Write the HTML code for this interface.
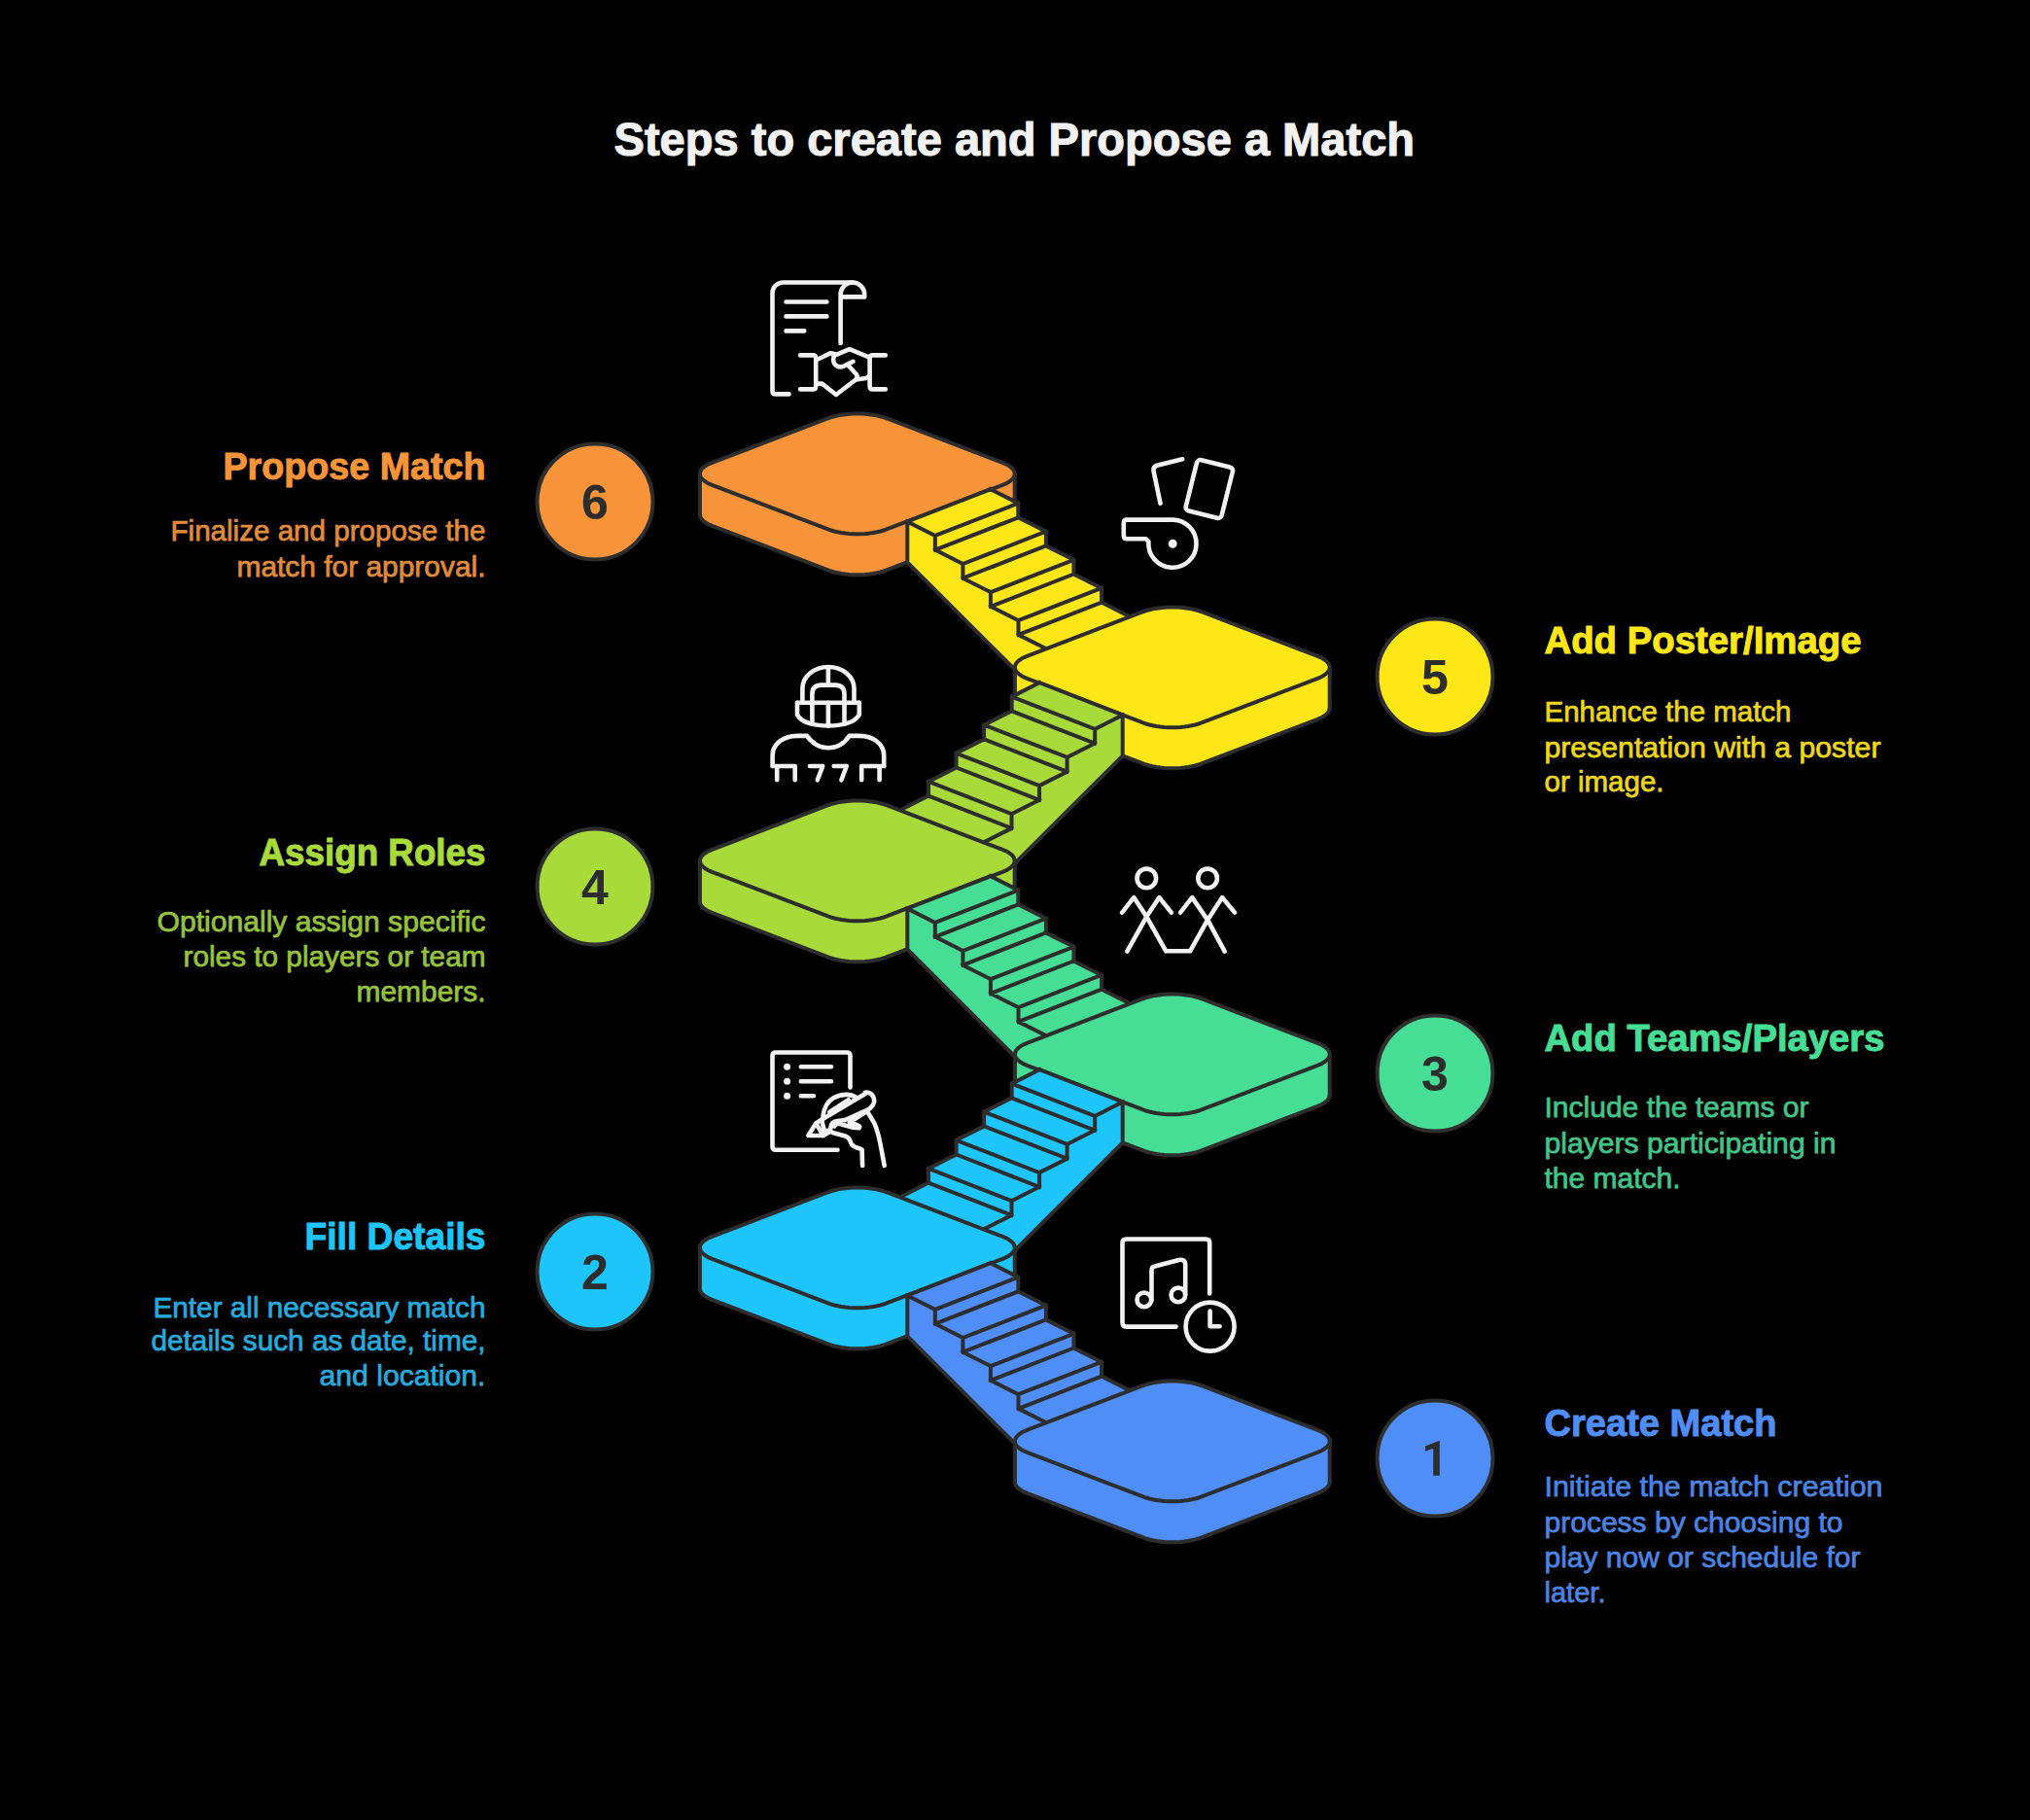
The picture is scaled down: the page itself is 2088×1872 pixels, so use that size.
<!DOCTYPE html>
<html><head><meta charset="utf-8"><style>
html,body{margin:0;padding:0;background:#000;width:2088px;height:1872px;overflow:hidden}
svg{position:absolute;left:0;top:0}
text{font-family:"Liberation Sans",sans-serif}
</style></head><body>
<svg width="2088" height="1872" viewBox="0 0 2088 1872">
<rect width="2088" height="1872" fill="#000"/>
<text x="1043.3" y="160.2" text-anchor="middle" font-size="47.8" font-weight="bold" fill="#F2F2F2" stroke="#F2F2F2" stroke-width="1.1" textLength="823.5" lengthAdjust="spacingAndGlyphs">Steps to create and Propose a Match</text>
<path d="M732.37 540.84 L729.56 539.66 L727.08 538.38 L724.93 537.01 L723.15 535.57 L721.74 534.07 L720.73 532.52 L720.12 530.94 L719.91 529.35 L720.12 527.76 L720.73 526.18 L721.74 524.63 L723.15 523.13 L724.93 521.69 L727.08 520.32 L729.56 519.04 L732.37 517.86 L851.73 472.24 L854.83 471.17 L858.18 470.22 L861.76 469.4 L865.53 468.72 L869.46 468.18 L873.5 467.79 L877.63 467.56 L881.8 467.48 L885.97 467.56 L890.1 467.79 L894.14 468.18 L898.07 468.72 L901.84 469.4 L905.42 470.22 L908.77 471.17 L911.87 472.24 L1031.23 517.86 L1034.04 519.04 L1036.52 520.32 L1038.67 521.69 L1040.45 523.13 L1041.86 524.63 L1042.87 526.18 L1043.48 527.76 L1043.69 529.35 L1043.48 530.94 L1042.87 532.52 L1041.86 534.07 L1040.45 535.57 L1038.67 537.01 L1036.52 538.38 L1034.04 539.66 L1031.23 540.84 L911.87 586.46 L908.77 587.53 L905.42 588.48 L901.84 589.3 L898.07 589.98 L894.14 590.52 L890.1 590.91 L885.97 591.14 L881.8 591.22 L877.63 591.14 L873.5 590.91 L869.46 590.52 L865.53 589.98 L861.76 589.3 L858.18 588.48 L854.83 587.53 L851.73 586.46Z" fill="#F7943A" stroke="#2D2D2D" stroke-width="4.0" stroke-linejoin="round"/>
<rect x="719.91" y="487.35" width="323.77" height="42" fill="#F7943A"/>
<path d="M719.91 487.35V530.85M1043.69 487.35V530.85" stroke="#2D2D2D" stroke-width="4.0"/>
<path d="M732.37 498.84 L729.56 497.66 L727.08 496.38 L724.93 495.01 L723.15 493.57 L721.74 492.07 L720.73 490.52 L720.12 488.94 L719.91 487.35 L720.12 485.76 L720.73 484.18 L721.74 482.63 L723.15 481.13 L724.93 479.69 L727.08 478.32 L729.56 477.04 L732.37 475.86 L851.73 430.24 L854.83 429.17 L858.18 428.22 L861.76 427.4 L865.53 426.72 L869.46 426.18 L873.5 425.79 L877.63 425.56 L881.8 425.48 L885.97 425.56 L890.1 425.79 L894.14 426.18 L898.07 426.72 L901.84 427.4 L905.42 428.22 L908.77 429.17 L911.87 430.24 L1031.23 475.86 L1034.04 477.04 L1036.52 478.32 L1038.67 479.69 L1040.45 481.13 L1041.86 482.63 L1042.87 484.18 L1043.48 485.76 L1043.69 487.35 L1043.48 488.94 L1042.87 490.52 L1041.86 492.07 L1040.45 493.57 L1038.67 495.01 L1036.52 496.38 L1034.04 497.66 L1031.23 498.84 L911.87 544.46 L908.77 545.53 L905.42 546.48 L901.84 547.3 L898.07 547.98 L894.14 548.52 L890.1 548.91 L885.97 549.14 L881.8 549.22 L877.63 549.14 L873.5 548.91 L869.46 548.52 L865.53 547.98 L861.76 547.3 L858.18 546.48 L854.83 545.53 L851.73 544.46Z" fill="#F7943A" stroke="#2D2D2D" stroke-width="4.0" stroke-linejoin="round"/>
<path d="M933.3 536.5 L933.3 578.5 L1043.5 688.5 L1083.5 668.5 L1076.05 667.3 L1047.5 652.9 L1047.5 638.2 L1018.95 623.8 L1018.95 609.1 L990.4 594.7 L990.4 580 L961.85 565.6 L961.85 550.9 L933.3 536.5Z" fill="#FFE617"/>
<path d="M933.3 536.5 L961.85 550.9 L961.85 565.6 L990.4 580 L990.4 594.7 L1018.95 609.1 L1018.95 623.8 L1047.5 638.2 L1047.5 652.9 L1076.05 667.3 L1104.6 681.7 L1190.1 648.4 L1161.55 634 L1133 619.6 L1133 604.9 L1104.45 590.5 L1104.45 575.8 L1075.9 561.4 L1075.9 546.7 L1047.35 532.3 L1047.35 517.6 L1018.8 503.2Z" fill="#FFE617"/>
<path d="M933.3 536.5 L933.3 578.5 L1043.5 688.5 M933.3 536.5 L961.85 550.9 L961.85 565.6 L990.4 580 L990.4 594.7 L1018.95 609.1 L1018.95 623.8 L1047.5 638.2 L1047.5 652.9 L1076.05 667.3 L1104.6 681.7 M1018.8 503.2 L1047.35 517.6 L1047.35 532.3 L1075.9 546.7 L1075.9 561.4 L1104.45 575.8 L1104.45 590.5 L1133 604.9 L1133 619.6 L1161.55 634 L1190.1 648.4 M961.85 550.9 L1047.35 517.6 M961.85 565.6 L1047.35 532.3 M990.4 580 L1075.9 546.7 M990.4 594.7 L1075.9 561.4 M1018.95 609.1 L1104.45 575.8 M1018.95 623.8 L1104.45 590.5 M1047.5 638.2 L1133 604.9 M1047.5 652.9 L1133 619.6 M933.3 536.5 L1018.8 503.2" fill="none" stroke="#2D2D2D" stroke-width="4.0" stroke-linejoin="miter" stroke-linecap="square"/>
<path d="M1056.37 739.84 L1053.56 738.66 L1051.08 737.38 L1048.93 736.01 L1047.15 734.57 L1045.74 733.07 L1044.73 731.52 L1044.12 729.94 L1043.91 728.35 L1044.12 726.76 L1044.73 725.18 L1045.74 723.63 L1047.15 722.13 L1048.93 720.69 L1051.08 719.32 L1053.56 718.04 L1056.37 716.86 L1175.73 671.24 L1178.83 670.17 L1182.18 669.22 L1185.76 668.4 L1189.53 667.72 L1193.46 667.18 L1197.5 666.79 L1201.63 666.56 L1205.8 666.48 L1209.97 666.56 L1214.1 666.79 L1218.14 667.18 L1222.07 667.72 L1225.84 668.4 L1229.42 669.22 L1232.77 670.17 L1235.87 671.24 L1355.23 716.86 L1358.04 718.04 L1360.52 719.32 L1362.67 720.69 L1364.45 722.13 L1365.86 723.63 L1366.87 725.18 L1367.48 726.76 L1367.69 728.35 L1367.48 729.94 L1366.87 731.52 L1365.86 733.07 L1364.45 734.57 L1362.67 736.01 L1360.52 737.38 L1358.04 738.66 L1355.23 739.84 L1235.87 785.46 L1232.77 786.53 L1229.42 787.48 L1225.84 788.3 L1222.07 788.98 L1218.14 789.52 L1214.1 789.91 L1209.97 790.14 L1205.8 790.22 L1201.63 790.14 L1197.5 789.91 L1193.46 789.52 L1189.53 788.98 L1185.76 788.3 L1182.18 787.48 L1178.83 786.53 L1175.73 785.46Z" fill="#FFE617" stroke="#2D2D2D" stroke-width="4.0" stroke-linejoin="round"/>
<rect x="1043.91" y="686.35" width="323.77" height="42" fill="#FFE617"/>
<path d="M1043.91 686.35V729.85M1367.69 686.35V729.85" stroke="#2D2D2D" stroke-width="4.0"/>
<path d="M1056.37 697.84 L1053.56 696.66 L1051.08 695.38 L1048.93 694.01 L1047.15 692.57 L1045.74 691.07 L1044.73 689.52 L1044.12 687.94 L1043.91 686.35 L1044.12 684.76 L1044.73 683.18 L1045.74 681.63 L1047.15 680.13 L1048.93 678.69 L1051.08 677.32 L1053.56 676.04 L1056.37 674.86 L1175.73 629.24 L1178.83 628.17 L1182.18 627.22 L1185.76 626.4 L1189.53 625.72 L1193.46 625.18 L1197.5 624.79 L1201.63 624.56 L1205.8 624.48 L1209.97 624.56 L1214.1 624.79 L1218.14 625.18 L1222.07 625.72 L1225.84 626.4 L1229.42 627.22 L1232.77 628.17 L1235.87 629.24 L1355.23 674.86 L1358.04 676.04 L1360.52 677.32 L1362.67 678.69 L1364.45 680.13 L1365.86 681.63 L1366.87 683.18 L1367.48 684.76 L1367.69 686.35 L1367.48 687.94 L1366.87 689.52 L1365.86 691.07 L1364.45 692.57 L1362.67 694.01 L1360.52 695.38 L1358.04 696.66 L1355.23 697.84 L1235.87 743.46 L1232.77 744.53 L1229.42 745.48 L1225.84 746.3 L1222.07 746.98 L1218.14 747.52 L1214.1 747.91 L1209.97 748.14 L1205.8 748.22 L1201.63 748.14 L1197.5 747.91 L1193.46 747.52 L1189.53 746.98 L1185.76 746.3 L1182.18 745.48 L1178.83 744.53 L1175.73 743.46Z" fill="#FFE617" stroke="#2D2D2D" stroke-width="4.0" stroke-linejoin="round"/>
<path d="M1154.7 735.5 L1154.7 777.5 L1044.5 887.5 L1004.5 867.5 L1011.95 866.3 L1040.5 851.9 L1040.5 837.2 L1069.05 822.8 L1069.05 808.1 L1097.6 793.7 L1097.6 779 L1126.15 764.6 L1126.15 749.9 L1154.7 735.5Z" fill="#A8DB39"/>
<path d="M1154.7 735.5 L1126.15 749.9 L1126.15 764.6 L1097.6 779 L1097.6 793.7 L1069.05 808.1 L1069.05 822.8 L1040.5 837.2 L1040.5 851.9 L1011.95 866.3 L983.4 880.7 L897.9 847.4 L926.45 833 L955 818.6 L955 803.9 L983.55 789.5 L983.55 774.8 L1012.1 760.4 L1012.1 745.7 L1040.65 731.3 L1040.65 716.6 L1069.2 702.2Z" fill="#A8DB39"/>
<path d="M1154.7 735.5 L1154.7 777.5 L1044.5 887.5 M1154.7 735.5 L1126.15 749.9 L1126.15 764.6 L1097.6 779 L1097.6 793.7 L1069.05 808.1 L1069.05 822.8 L1040.5 837.2 L1040.5 851.9 L1011.95 866.3 L983.4 880.7 M1069.2 702.2 L1040.65 716.6 L1040.65 731.3 L1012.1 745.7 L1012.1 760.4 L983.55 774.8 L983.55 789.5 L955 803.9 L955 818.6 L926.45 833 L897.9 847.4 M1126.15 749.9 L1040.65 716.6 M1126.15 764.6 L1040.65 731.3 M1097.6 779 L1012.1 745.7 M1097.6 793.7 L1012.1 760.4 M1069.05 808.1 L983.55 774.8 M1069.05 822.8 L983.55 789.5 M1040.5 837.2 L955 803.9 M1040.5 851.9 L955 818.6 M1154.7 735.5 L1069.2 702.2" fill="none" stroke="#2D2D2D" stroke-width="4.0" stroke-linejoin="miter" stroke-linecap="square"/>
<path d="M732.37 938.84 L729.56 937.66 L727.08 936.38 L724.93 935.01 L723.15 933.57 L721.74 932.07 L720.73 930.52 L720.12 928.94 L719.91 927.35 L720.12 925.76 L720.73 924.18 L721.74 922.63 L723.15 921.13 L724.93 919.69 L727.08 918.32 L729.56 917.04 L732.37 915.86 L851.73 870.24 L854.83 869.17 L858.18 868.22 L861.76 867.4 L865.53 866.72 L869.46 866.18 L873.5 865.79 L877.63 865.56 L881.8 865.48 L885.97 865.56 L890.1 865.79 L894.14 866.18 L898.07 866.72 L901.84 867.4 L905.42 868.22 L908.77 869.17 L911.87 870.24 L1031.23 915.86 L1034.04 917.04 L1036.52 918.32 L1038.67 919.69 L1040.45 921.13 L1041.86 922.63 L1042.87 924.18 L1043.48 925.76 L1043.69 927.35 L1043.48 928.94 L1042.87 930.52 L1041.86 932.07 L1040.45 933.57 L1038.67 935.01 L1036.52 936.38 L1034.04 937.66 L1031.23 938.84 L911.87 984.46 L908.77 985.53 L905.42 986.48 L901.84 987.3 L898.07 987.98 L894.14 988.52 L890.1 988.91 L885.97 989.14 L881.8 989.22 L877.63 989.14 L873.5 988.91 L869.46 988.52 L865.53 987.98 L861.76 987.3 L858.18 986.48 L854.83 985.53 L851.73 984.46Z" fill="#A8DB39" stroke="#2D2D2D" stroke-width="4.0" stroke-linejoin="round"/>
<rect x="719.91" y="885.35" width="323.77" height="42" fill="#A8DB39"/>
<path d="M719.91 885.35V928.85M1043.69 885.35V928.85" stroke="#2D2D2D" stroke-width="4.0"/>
<path d="M732.37 896.84 L729.56 895.66 L727.08 894.38 L724.93 893.01 L723.15 891.57 L721.74 890.07 L720.73 888.52 L720.12 886.94 L719.91 885.35 L720.12 883.76 L720.73 882.18 L721.74 880.63 L723.15 879.13 L724.93 877.69 L727.08 876.32 L729.56 875.04 L732.37 873.86 L851.73 828.24 L854.83 827.17 L858.18 826.22 L861.76 825.4 L865.53 824.72 L869.46 824.18 L873.5 823.79 L877.63 823.56 L881.8 823.48 L885.97 823.56 L890.1 823.79 L894.14 824.18 L898.07 824.72 L901.84 825.4 L905.42 826.22 L908.77 827.17 L911.87 828.24 L1031.23 873.86 L1034.04 875.04 L1036.52 876.32 L1038.67 877.69 L1040.45 879.13 L1041.86 880.63 L1042.87 882.18 L1043.48 883.76 L1043.69 885.35 L1043.48 886.94 L1042.87 888.52 L1041.86 890.07 L1040.45 891.57 L1038.67 893.01 L1036.52 894.38 L1034.04 895.66 L1031.23 896.84 L911.87 942.46 L908.77 943.53 L905.42 944.48 L901.84 945.3 L898.07 945.98 L894.14 946.52 L890.1 946.91 L885.97 947.14 L881.8 947.22 L877.63 947.14 L873.5 946.91 L869.46 946.52 L865.53 945.98 L861.76 945.3 L858.18 944.48 L854.83 943.53 L851.73 942.46Z" fill="#A8DB39" stroke="#2D2D2D" stroke-width="4.0" stroke-linejoin="round"/>
<path d="M933.3 934.5 L933.3 976.5 L1043.5 1086.5 L1083.5 1066.5 L1076.05 1065.3 L1047.5 1050.9 L1047.5 1036.2 L1018.95 1021.8 L1018.95 1007.1 L990.4 992.7 L990.4 978 L961.85 963.6 L961.85 948.9 L933.3 934.5Z" fill="#45DE94"/>
<path d="M933.3 934.5 L961.85 948.9 L961.85 963.6 L990.4 978 L990.4 992.7 L1018.95 1007.1 L1018.95 1021.8 L1047.5 1036.2 L1047.5 1050.9 L1076.05 1065.3 L1104.6 1079.7 L1190.1 1046.4 L1161.55 1032 L1133 1017.6 L1133 1002.9 L1104.45 988.5 L1104.45 973.8 L1075.9 959.4 L1075.9 944.7 L1047.35 930.3 L1047.35 915.6 L1018.8 901.2Z" fill="#45DE94"/>
<path d="M933.3 934.5 L933.3 976.5 L1043.5 1086.5 M933.3 934.5 L961.85 948.9 L961.85 963.6 L990.4 978 L990.4 992.7 L1018.95 1007.1 L1018.95 1021.8 L1047.5 1036.2 L1047.5 1050.9 L1076.05 1065.3 L1104.6 1079.7 M1018.8 901.2 L1047.35 915.6 L1047.35 930.3 L1075.9 944.7 L1075.9 959.4 L1104.45 973.8 L1104.45 988.5 L1133 1002.9 L1133 1017.6 L1161.55 1032 L1190.1 1046.4 M961.85 948.9 L1047.35 915.6 M961.85 963.6 L1047.35 930.3 M990.4 978 L1075.9 944.7 M990.4 992.7 L1075.9 959.4 M1018.95 1007.1 L1104.45 973.8 M1018.95 1021.8 L1104.45 988.5 M1047.5 1036.2 L1133 1002.9 M1047.5 1050.9 L1133 1017.6 M933.3 934.5 L1018.8 901.2" fill="none" stroke="#2D2D2D" stroke-width="4.0" stroke-linejoin="miter" stroke-linecap="square"/>
<path d="M1056.37 1137.84 L1053.56 1136.66 L1051.08 1135.38 L1048.93 1134.01 L1047.15 1132.57 L1045.74 1131.07 L1044.73 1129.52 L1044.12 1127.94 L1043.91 1126.35 L1044.12 1124.76 L1044.73 1123.18 L1045.74 1121.63 L1047.15 1120.13 L1048.93 1118.69 L1051.08 1117.32 L1053.56 1116.04 L1056.37 1114.86 L1175.73 1069.24 L1178.83 1068.17 L1182.18 1067.22 L1185.76 1066.4 L1189.53 1065.72 L1193.46 1065.18 L1197.5 1064.79 L1201.63 1064.56 L1205.8 1064.48 L1209.97 1064.56 L1214.1 1064.79 L1218.14 1065.18 L1222.07 1065.72 L1225.84 1066.4 L1229.42 1067.22 L1232.77 1068.17 L1235.87 1069.24 L1355.23 1114.86 L1358.04 1116.04 L1360.52 1117.32 L1362.67 1118.69 L1364.45 1120.13 L1365.86 1121.63 L1366.87 1123.18 L1367.48 1124.76 L1367.69 1126.35 L1367.48 1127.94 L1366.87 1129.52 L1365.86 1131.07 L1364.45 1132.57 L1362.67 1134.01 L1360.52 1135.38 L1358.04 1136.66 L1355.23 1137.84 L1235.87 1183.46 L1232.77 1184.53 L1229.42 1185.48 L1225.84 1186.3 L1222.07 1186.98 L1218.14 1187.52 L1214.1 1187.91 L1209.97 1188.14 L1205.8 1188.22 L1201.63 1188.14 L1197.5 1187.91 L1193.46 1187.52 L1189.53 1186.98 L1185.76 1186.3 L1182.18 1185.48 L1178.83 1184.53 L1175.73 1183.46Z" fill="#45DE94" stroke="#2D2D2D" stroke-width="4.0" stroke-linejoin="round"/>
<rect x="1043.91" y="1084.35" width="323.77" height="42" fill="#45DE94"/>
<path d="M1043.91 1084.35V1127.85M1367.69 1084.35V1127.85" stroke="#2D2D2D" stroke-width="4.0"/>
<path d="M1056.37 1095.84 L1053.56 1094.66 L1051.08 1093.38 L1048.93 1092.01 L1047.15 1090.57 L1045.74 1089.07 L1044.73 1087.52 L1044.12 1085.94 L1043.91 1084.35 L1044.12 1082.76 L1044.73 1081.18 L1045.74 1079.63 L1047.15 1078.13 L1048.93 1076.69 L1051.08 1075.32 L1053.56 1074.04 L1056.37 1072.86 L1175.73 1027.24 L1178.83 1026.17 L1182.18 1025.22 L1185.76 1024.4 L1189.53 1023.72 L1193.46 1023.18 L1197.5 1022.79 L1201.63 1022.56 L1205.8 1022.48 L1209.97 1022.56 L1214.1 1022.79 L1218.14 1023.18 L1222.07 1023.72 L1225.84 1024.4 L1229.42 1025.22 L1232.77 1026.17 L1235.87 1027.24 L1355.23 1072.86 L1358.04 1074.04 L1360.52 1075.32 L1362.67 1076.69 L1364.45 1078.13 L1365.86 1079.63 L1366.87 1081.18 L1367.48 1082.76 L1367.69 1084.35 L1367.48 1085.94 L1366.87 1087.52 L1365.86 1089.07 L1364.45 1090.57 L1362.67 1092.01 L1360.52 1093.38 L1358.04 1094.66 L1355.23 1095.84 L1235.87 1141.46 L1232.77 1142.53 L1229.42 1143.48 L1225.84 1144.3 L1222.07 1144.98 L1218.14 1145.52 L1214.1 1145.91 L1209.97 1146.14 L1205.8 1146.22 L1201.63 1146.14 L1197.5 1145.91 L1193.46 1145.52 L1189.53 1144.98 L1185.76 1144.3 L1182.18 1143.48 L1178.83 1142.53 L1175.73 1141.46Z" fill="#45DE94" stroke="#2D2D2D" stroke-width="4.0" stroke-linejoin="round"/>
<path d="M1154.7 1133.5 L1154.7 1175.5 L1044.5 1285.5 L1004.5 1265.5 L1011.95 1264.3 L1040.5 1249.9 L1040.5 1235.2 L1069.05 1220.8 L1069.05 1206.1 L1097.6 1191.7 L1097.6 1177 L1126.15 1162.6 L1126.15 1147.9 L1154.7 1133.5Z" fill="#1DC5FA"/>
<path d="M1154.7 1133.5 L1126.15 1147.9 L1126.15 1162.6 L1097.6 1177 L1097.6 1191.7 L1069.05 1206.1 L1069.05 1220.8 L1040.5 1235.2 L1040.5 1249.9 L1011.95 1264.3 L983.4 1278.7 L897.9 1245.4 L926.45 1231 L955 1216.6 L955 1201.9 L983.55 1187.5 L983.55 1172.8 L1012.1 1158.4 L1012.1 1143.7 L1040.65 1129.3 L1040.65 1114.6 L1069.2 1100.2Z" fill="#1DC5FA"/>
<path d="M1154.7 1133.5 L1154.7 1175.5 L1044.5 1285.5 M1154.7 1133.5 L1126.15 1147.9 L1126.15 1162.6 L1097.6 1177 L1097.6 1191.7 L1069.05 1206.1 L1069.05 1220.8 L1040.5 1235.2 L1040.5 1249.9 L1011.95 1264.3 L983.4 1278.7 M1069.2 1100.2 L1040.65 1114.6 L1040.65 1129.3 L1012.1 1143.7 L1012.1 1158.4 L983.55 1172.8 L983.55 1187.5 L955 1201.9 L955 1216.6 L926.45 1231 L897.9 1245.4 M1126.15 1147.9 L1040.65 1114.6 M1126.15 1162.6 L1040.65 1129.3 M1097.6 1177 L1012.1 1143.7 M1097.6 1191.7 L1012.1 1158.4 M1069.05 1206.1 L983.55 1172.8 M1069.05 1220.8 L983.55 1187.5 M1040.5 1235.2 L955 1201.9 M1040.5 1249.9 L955 1216.6 M1154.7 1133.5 L1069.2 1100.2" fill="none" stroke="#2D2D2D" stroke-width="4.0" stroke-linejoin="miter" stroke-linecap="square"/>
<path d="M732.37 1336.84 L729.56 1335.66 L727.08 1334.38 L724.93 1333.01 L723.15 1331.57 L721.74 1330.07 L720.73 1328.52 L720.12 1326.94 L719.91 1325.35 L720.12 1323.76 L720.73 1322.18 L721.74 1320.63 L723.15 1319.13 L724.93 1317.69 L727.08 1316.32 L729.56 1315.04 L732.37 1313.86 L851.73 1268.24 L854.83 1267.17 L858.18 1266.22 L861.76 1265.4 L865.53 1264.72 L869.46 1264.18 L873.5 1263.79 L877.63 1263.56 L881.8 1263.48 L885.97 1263.56 L890.1 1263.79 L894.14 1264.18 L898.07 1264.72 L901.84 1265.4 L905.42 1266.22 L908.77 1267.17 L911.87 1268.24 L1031.23 1313.86 L1034.04 1315.04 L1036.52 1316.32 L1038.67 1317.69 L1040.45 1319.13 L1041.86 1320.63 L1042.87 1322.18 L1043.48 1323.76 L1043.69 1325.35 L1043.48 1326.94 L1042.87 1328.52 L1041.86 1330.07 L1040.45 1331.57 L1038.67 1333.01 L1036.52 1334.38 L1034.04 1335.66 L1031.23 1336.84 L911.87 1382.46 L908.77 1383.53 L905.42 1384.48 L901.84 1385.3 L898.07 1385.98 L894.14 1386.52 L890.1 1386.91 L885.97 1387.14 L881.8 1387.22 L877.63 1387.14 L873.5 1386.91 L869.46 1386.52 L865.53 1385.98 L861.76 1385.3 L858.18 1384.48 L854.83 1383.53 L851.73 1382.46Z" fill="#1DC5FA" stroke="#2D2D2D" stroke-width="4.0" stroke-linejoin="round"/>
<rect x="719.91" y="1283.35" width="323.77" height="42" fill="#1DC5FA"/>
<path d="M719.91 1283.35V1326.85M1043.69 1283.35V1326.85" stroke="#2D2D2D" stroke-width="4.0"/>
<path d="M732.37 1294.84 L729.56 1293.66 L727.08 1292.38 L724.93 1291.01 L723.15 1289.57 L721.74 1288.07 L720.73 1286.52 L720.12 1284.94 L719.91 1283.35 L720.12 1281.76 L720.73 1280.18 L721.74 1278.63 L723.15 1277.13 L724.93 1275.69 L727.08 1274.32 L729.56 1273.04 L732.37 1271.86 L851.73 1226.24 L854.83 1225.17 L858.18 1224.22 L861.76 1223.4 L865.53 1222.72 L869.46 1222.18 L873.5 1221.79 L877.63 1221.56 L881.8 1221.48 L885.97 1221.56 L890.1 1221.79 L894.14 1222.18 L898.07 1222.72 L901.84 1223.4 L905.42 1224.22 L908.77 1225.17 L911.87 1226.24 L1031.23 1271.86 L1034.04 1273.04 L1036.52 1274.32 L1038.67 1275.69 L1040.45 1277.13 L1041.86 1278.63 L1042.87 1280.18 L1043.48 1281.76 L1043.69 1283.35 L1043.48 1284.94 L1042.87 1286.52 L1041.86 1288.07 L1040.45 1289.57 L1038.67 1291.01 L1036.52 1292.38 L1034.04 1293.66 L1031.23 1294.84 L911.87 1340.46 L908.77 1341.53 L905.42 1342.48 L901.84 1343.3 L898.07 1343.98 L894.14 1344.52 L890.1 1344.91 L885.97 1345.14 L881.8 1345.22 L877.63 1345.14 L873.5 1344.91 L869.46 1344.52 L865.53 1343.98 L861.76 1343.3 L858.18 1342.48 L854.83 1341.53 L851.73 1340.46Z" fill="#1DC5FA" stroke="#2D2D2D" stroke-width="4.0" stroke-linejoin="round"/>
<path d="M933.3 1332.5 L933.3 1374.5 L1043.5 1484.5 L1083.5 1464.5 L1076.05 1463.3 L1047.5 1448.9 L1047.5 1434.2 L1018.95 1419.8 L1018.95 1405.1 L990.4 1390.7 L990.4 1376 L961.85 1361.6 L961.85 1346.9 L933.3 1332.5Z" fill="#4F8EF7"/>
<path d="M933.3 1332.5 L961.85 1346.9 L961.85 1361.6 L990.4 1376 L990.4 1390.7 L1018.95 1405.1 L1018.95 1419.8 L1047.5 1434.2 L1047.5 1448.9 L1076.05 1463.3 L1104.6 1477.7 L1190.1 1444.4 L1161.55 1430 L1133 1415.6 L1133 1400.9 L1104.45 1386.5 L1104.45 1371.8 L1075.9 1357.4 L1075.9 1342.7 L1047.35 1328.3 L1047.35 1313.6 L1018.8 1299.2Z" fill="#4F8EF7"/>
<path d="M933.3 1332.5 L933.3 1374.5 L1043.5 1484.5 M933.3 1332.5 L961.85 1346.9 L961.85 1361.6 L990.4 1376 L990.4 1390.7 L1018.95 1405.1 L1018.95 1419.8 L1047.5 1434.2 L1047.5 1448.9 L1076.05 1463.3 L1104.6 1477.7 M1018.8 1299.2 L1047.35 1313.6 L1047.35 1328.3 L1075.9 1342.7 L1075.9 1357.4 L1104.45 1371.8 L1104.45 1386.5 L1133 1400.9 L1133 1415.6 L1161.55 1430 L1190.1 1444.4 M961.85 1346.9 L1047.35 1313.6 M961.85 1361.6 L1047.35 1328.3 M990.4 1376 L1075.9 1342.7 M990.4 1390.7 L1075.9 1357.4 M1018.95 1405.1 L1104.45 1371.8 M1018.95 1419.8 L1104.45 1386.5 M1047.5 1434.2 L1133 1400.9 M1047.5 1448.9 L1133 1415.6 M933.3 1332.5 L1018.8 1299.2" fill="none" stroke="#2D2D2D" stroke-width="4.0" stroke-linejoin="miter" stroke-linecap="square"/>
<path d="M1056.37 1535.84 L1053.56 1534.66 L1051.08 1533.38 L1048.93 1532.01 L1047.15 1530.57 L1045.74 1529.07 L1044.73 1527.52 L1044.12 1525.94 L1043.91 1524.35 L1044.12 1522.76 L1044.73 1521.18 L1045.74 1519.63 L1047.15 1518.13 L1048.93 1516.69 L1051.08 1515.32 L1053.56 1514.04 L1056.37 1512.86 L1175.73 1467.24 L1178.83 1466.17 L1182.18 1465.22 L1185.76 1464.4 L1189.53 1463.72 L1193.46 1463.18 L1197.5 1462.79 L1201.63 1462.56 L1205.8 1462.48 L1209.97 1462.56 L1214.1 1462.79 L1218.14 1463.18 L1222.07 1463.72 L1225.84 1464.4 L1229.42 1465.22 L1232.77 1466.17 L1235.87 1467.24 L1355.23 1512.86 L1358.04 1514.04 L1360.52 1515.32 L1362.67 1516.69 L1364.45 1518.13 L1365.86 1519.63 L1366.87 1521.18 L1367.48 1522.76 L1367.69 1524.35 L1367.48 1525.94 L1366.87 1527.52 L1365.86 1529.07 L1364.45 1530.57 L1362.67 1532.01 L1360.52 1533.38 L1358.04 1534.66 L1355.23 1535.84 L1235.87 1581.46 L1232.77 1582.53 L1229.42 1583.48 L1225.84 1584.3 L1222.07 1584.98 L1218.14 1585.52 L1214.1 1585.91 L1209.97 1586.14 L1205.8 1586.22 L1201.63 1586.14 L1197.5 1585.91 L1193.46 1585.52 L1189.53 1584.98 L1185.76 1584.3 L1182.18 1583.48 L1178.83 1582.53 L1175.73 1581.46Z" fill="#4F8EF7" stroke="#2D2D2D" stroke-width="4.0" stroke-linejoin="round"/>
<rect x="1043.91" y="1482.35" width="323.77" height="42" fill="#4F8EF7"/>
<path d="M1043.91 1482.35V1525.85M1367.69 1482.35V1525.85" stroke="#2D2D2D" stroke-width="4.0"/>
<path d="M1056.37 1493.84 L1053.56 1492.66 L1051.08 1491.38 L1048.93 1490.01 L1047.15 1488.57 L1045.74 1487.07 L1044.73 1485.52 L1044.12 1483.94 L1043.91 1482.35 L1044.12 1480.76 L1044.73 1479.18 L1045.74 1477.63 L1047.15 1476.13 L1048.93 1474.69 L1051.08 1473.32 L1053.56 1472.04 L1056.37 1470.86 L1175.73 1425.24 L1178.83 1424.17 L1182.18 1423.22 L1185.76 1422.4 L1189.53 1421.72 L1193.46 1421.18 L1197.5 1420.79 L1201.63 1420.56 L1205.8 1420.48 L1209.97 1420.56 L1214.1 1420.79 L1218.14 1421.18 L1222.07 1421.72 L1225.84 1422.4 L1229.42 1423.22 L1232.77 1424.17 L1235.87 1425.24 L1355.23 1470.86 L1358.04 1472.04 L1360.52 1473.32 L1362.67 1474.69 L1364.45 1476.13 L1365.86 1477.63 L1366.87 1479.18 L1367.48 1480.76 L1367.69 1482.35 L1367.48 1483.94 L1366.87 1485.52 L1365.86 1487.07 L1364.45 1488.57 L1362.67 1490.01 L1360.52 1491.38 L1358.04 1492.66 L1355.23 1493.84 L1235.87 1539.46 L1232.77 1540.53 L1229.42 1541.48 L1225.84 1542.3 L1222.07 1542.98 L1218.14 1543.52 L1214.1 1543.91 L1209.97 1544.14 L1205.8 1544.22 L1201.63 1544.14 L1197.5 1543.91 L1193.46 1543.52 L1189.53 1542.98 L1185.76 1542.3 L1182.18 1541.48 L1178.83 1540.53 L1175.73 1539.46Z" fill="#4F8EF7" stroke="#2D2D2D" stroke-width="4.0" stroke-linejoin="round"/>
<circle cx="612" cy="516" r="59.5" fill="#F7943A" stroke="#2D2D2D" stroke-width="4.0"/><text x="612" y="533.6" font-family="Liberation Sans" font-weight="bold" font-size="50" fill="#2D2D2D" text-anchor="middle">6</text>
<circle cx="1476" cy="696" r="59.5" fill="#FFE617" stroke="#2D2D2D" stroke-width="4.0"/><text x="1476" y="713.6" font-family="Liberation Sans" font-weight="bold" font-size="50" fill="#2D2D2D" text-anchor="middle">5</text>
<circle cx="612" cy="912" r="59.5" fill="#A8DB39" stroke="#2D2D2D" stroke-width="4.0"/><text x="612" y="929.6" font-family="Liberation Sans" font-weight="bold" font-size="50" fill="#2D2D2D" text-anchor="middle">4</text>
<circle cx="1476" cy="1104" r="59.5" fill="#45DE94" stroke="#2D2D2D" stroke-width="4.0"/><text x="1476" y="1121.6" font-family="Liberation Sans" font-weight="bold" font-size="50" fill="#2D2D2D" text-anchor="middle">3</text>
<circle cx="612" cy="1308" r="59.5" fill="#1DC5FA" stroke="#2D2D2D" stroke-width="4.0"/><text x="612" y="1325.6" font-family="Liberation Sans" font-weight="bold" font-size="50" fill="#2D2D2D" text-anchor="middle">2</text>
<circle cx="1476" cy="1500" r="59.5" fill="#4F8EF7" stroke="#2D2D2D" stroke-width="4.0"/><path transform="translate(0 0)" d="M1480.8 1482.1V1517.7H1474.2V1489.7L1466 1492.8V1487.5L1480 1482.1Z" fill="#2D2D2D"/>
<text x="499.5" y="493.3" text-anchor="end" font-size="39.3" font-weight="bold" fill="#F7943A" stroke="#F7943A" stroke-width="1" textLength="270" lengthAdjust="spacingAndGlyphs">Propose Match</text>
<text x="499.5" y="556.3" text-anchor="end" font-size="30" fill="#E28C3B" stroke="#E28C3B" stroke-width="0.75" textLength="324" lengthAdjust="spacingAndGlyphs">Finalize and propose the</text>
<text x="499.5" y="592.5" text-anchor="end" font-size="30" fill="#E28C3B" stroke="#E28C3B" stroke-width="0.75" textLength="256" lengthAdjust="spacingAndGlyphs">match for approval.</text>
<text x="499.5" y="889.7" text-anchor="end" font-size="39.3" font-weight="bold" fill="#A8DB39" stroke="#A8DB39" stroke-width="1" textLength="233" lengthAdjust="spacingAndGlyphs">Assign Roles</text>
<text x="499.5" y="957.9" text-anchor="end" font-size="30" fill="#96C33C" stroke="#96C33C" stroke-width="0.75" textLength="338" lengthAdjust="spacingAndGlyphs">Optionally assign specific</text>
<text x="499.5" y="994.4" text-anchor="end" font-size="30" fill="#96C33C" stroke="#96C33C" stroke-width="0.75" textLength="311" lengthAdjust="spacingAndGlyphs">roles to players or team</text>
<text x="499.5" y="1029.7" text-anchor="end" font-size="30" fill="#96C33C" stroke="#96C33C" stroke-width="0.75" textLength="133" lengthAdjust="spacingAndGlyphs">members.</text>
<text x="499.5" y="1284.6" text-anchor="end" font-size="39.3" font-weight="bold" fill="#1DC5FA" stroke="#1DC5FA" stroke-width="1" textLength="186" lengthAdjust="spacingAndGlyphs">Fill Details</text>
<text x="499.5" y="1354.6" text-anchor="end" font-size="30" fill="#26ABDF" stroke="#26ABDF" stroke-width="0.75" textLength="342" lengthAdjust="spacingAndGlyphs">Enter all necessary match</text>
<text x="499.5" y="1388.5" text-anchor="end" font-size="30" fill="#26ABDF" stroke="#26ABDF" stroke-width="0.75" textLength="344" lengthAdjust="spacingAndGlyphs">details such as date, time,</text>
<text x="499.5" y="1425.1" text-anchor="end" font-size="30" fill="#26ABDF" stroke="#26ABDF" stroke-width="0.75" textLength="171" lengthAdjust="spacingAndGlyphs">and location.</text>
<text x="1588.5" y="672.4" text-anchor="start" font-size="39.3" font-weight="bold" fill="#FFE617" stroke="#FFE617" stroke-width="1" textLength="326" lengthAdjust="spacingAndGlyphs">Add Poster/Image</text>
<text x="1588.5" y="741.9" text-anchor="start" font-size="30" fill="#EDD71C" stroke="#EDD71C" stroke-width="0.75" textLength="254" lengthAdjust="spacingAndGlyphs">Enhance the match</text>
<text x="1588.5" y="778.5" text-anchor="start" font-size="30" fill="#EDD71C" stroke="#EDD71C" stroke-width="0.75" textLength="346" lengthAdjust="spacingAndGlyphs">presentation with a poster</text>
<text x="1588.5" y="813.7" text-anchor="start" font-size="30" fill="#EDD71C" stroke="#EDD71C" stroke-width="0.75" textLength="123" lengthAdjust="spacingAndGlyphs">or image.</text>
<text x="1588.5" y="1081.1" text-anchor="start" font-size="39.3" font-weight="bold" fill="#45DE94" stroke="#45DE94" stroke-width="1" textLength="350" lengthAdjust="spacingAndGlyphs">Add Teams/Players</text>
<text x="1588.5" y="1149.2" text-anchor="start" font-size="30" fill="#41C588" stroke="#41C588" stroke-width="0.75" textLength="272" lengthAdjust="spacingAndGlyphs">Include the teams or</text>
<text x="1588.5" y="1185.8" text-anchor="start" font-size="30" fill="#41C588" stroke="#41C588" stroke-width="0.75" textLength="300" lengthAdjust="spacingAndGlyphs">players participating in</text>
<text x="1588.5" y="1222.4" text-anchor="start" font-size="30" fill="#41C588" stroke="#41C588" stroke-width="0.75" textLength="140" lengthAdjust="spacingAndGlyphs">the match.</text>
<text x="1588.5" y="1476.5" text-anchor="start" font-size="39.3" font-weight="bold" fill="#4F8EF7" stroke="#4F8EF7" stroke-width="1" textLength="239" lengthAdjust="spacingAndGlyphs">Create Match</text>
<text x="1588.5" y="1539.2" text-anchor="start" font-size="30" fill="#4B84E3" stroke="#4B84E3" stroke-width="0.75" textLength="348" lengthAdjust="spacingAndGlyphs">Initiate the match creation</text>
<text x="1588.5" y="1575.8" text-anchor="start" font-size="30" fill="#4B84E3" stroke="#4B84E3" stroke-width="0.75" textLength="307" lengthAdjust="spacingAndGlyphs">process by choosing to</text>
<text x="1588.5" y="1612.4" text-anchor="start" font-size="30" fill="#4B84E3" stroke="#4B84E3" stroke-width="0.75" textLength="325" lengthAdjust="spacingAndGlyphs">play now or schedule for</text>
<text x="1588.5" y="1647.6" text-anchor="start" font-size="30" fill="#4B84E3" stroke="#4B84E3" stroke-width="0.75" textLength="63" lengthAdjust="spacingAndGlyphs">later.</text>
<g fill="none" stroke="#F2F2F2" stroke-width="4.6" stroke-linecap="round" stroke-linejoin="round">
<!-- icon 1 contract handshake -->
<path d="M811.5 405.4H797.7Q794.5 405.4 794.5 402.2V301.5A11 11 0 0 1 805.5 290.5H876.9"/>
<path d="M864.6 353V302.8A12.3 12.3 0 0 1 889.2 302.8V305.4H864.6"/>
<path d="M808.5 310.5H850.4M808.5 325.4H850.4M808.5 340.4H827.3"/>
<path d="M823.1 365.4H836.2Q839.2 365.4 839.2 368.4V397.2Q839.2 400.4 836 400.4H823.1"/>
<path d="M910.8 365.4H897.7Q894.6 365.4 894.6 368.4V397.2Q894.6 400.4 897.8 400.4H910.8"/>
<path d="M841.2 369.5L854.5 363.2L859.5 364.2"/>
<path d="M857.8 365.8L873.8 359.2L893.8 367.3"/>
<path d="M857.8 365.8Q856 372.5 859.5 375.5Q863.5 378.8 868 376.5L877.5 371.8"/>
<path d="M873 376.5L880.8 385Q883 388.2 880.2 390.5L860 406L845.5 394.6H841.2"/>
<path d="M880.2 390.5L890.8 389L894 387.2"/>
<!-- icon 2 whistle cards -->
<path d="M1216.2 472.3L1190 478.8Q1185.8 480.2 1186.6 484.8L1193.5 517.7"/>
<rect x="-19" y="-27" width="38" height="54" rx="4" transform="translate(1243.8 503) rotate(14)"/>
<path d="M1206.2 534.6H1159Q1155.8 534.6 1155.8 537.8V551Q1155.8 554.2 1159 554.2H1178.5L1181.4 557.2A24.6 24.6 0 1 0 1206.2 534.6Z"/>
<circle cx="1206.2" cy="559.2" r="2.2" fill="#F2F2F2"/>
<!-- icon 3 football player -->
<path d="M825.4 722.7V708A26.5 22 0 0 1 878.5 708V722.7"/>
<path d="M851.9 686.5V704.6"/>
<path d="M820 722.7H883.8"/>
<path d="M820 722.7V735C824 744 840 746.5 852 746.5C864 746.5 879.5 744 883.8 735V722.7"/>
<path d="M835.4 744.5V714Q835.4 704.6 845 704.6H859Q868.5 704.6 868.5 714V744.5M851.9 722.7V746.5"/>
<path d="M794.6 788V777C794.6 765 806 756.9 820 756.9H830C836 765.5 843 769.2 852 769.2C861 769.2 868 765.5 873.5 756.9H884C898 756.9 909.2 765 909.2 777V788"/>
<path d="M794.6 788H817.7V802.3M799.2 788V802.3M886.2 802.3V788H909.2M904.6 788V802.3"/>
<path d="M833 788H846.2L840.8 802.3M857.7 788H870.8L865.4 802.3"/>
<!-- icon 4 people -->
<circle cx="1179.3" cy="903.4" r="9.8"/>
<circle cx="1242.1" cy="903.4" r="9.8"/>
<path d="M1154.1 938.6L1166.2 923.1L1179.3 942.8L1199.3 978.3H1224.1L1242.1 946.2L1257.2 923.1L1270 938.6"/>
<path d="M1159.3 978.6L1179.3 942.8L1192.4 923.1L1204.8 938.6"/>
<path d="M1214.1 938.6L1226.2 923.1L1242.1 946.2L1259.7 978.6"/>
<!-- icon 5 checklist -->
<path d="M874.5 1118.5V1086Q874.5 1082.5 871 1082.5H798Q794.5 1082.5 794.5 1086V1179.2Q794.5 1182.7 798 1182.7H861.5"/>
<path d="M809.6 1097.3h0.01M809.6 1112.3h0.01M809.6 1127.3h0.01" stroke-width="7" stroke-linecap="round"/>
<path d="M823.8 1097.3H855M823.8 1112.3H855M823.8 1127.3H836.9"/>
<path d="M839.2 1155.4L845 1151.8L890 1125"/>
<path d="M846.5 1148C847.5 1140 851 1133 857 1129.5C862 1126.8 867 1125.8 871 1125.9C875 1126.2 877.5 1127 880 1128.3"/>
<path d="M872.8 1131.2L853.2 1143.9"/>
<path d="M889.7 1123.8Q896 1122.8 898.6 1129Q900.5 1134.5 896 1138.8L893.4 1141.2L869.2 1152"/>
<path d="M869.2 1152L860 1153.2Q856 1154 855 1157.2L854.4 1160.5Q853.3 1162.8 850.5 1163.2L847.4 1162.8"/>
<path d="M891.5 1143L873.7 1154.5L882.5 1157.5Q885.5 1158.8 883.5 1160.3L876.7 1159.6L863.7 1156Q860 1155.2 858.2 1158.5"/>
<path d="M846.8 1168L848.5 1167L853.8 1163.9L858.2 1165.5L870.2 1168.8Q873 1170 874 1172.5L876 1177.2Q878.5 1180 884 1181.2L886.6 1182.5L887.1 1199"/>
<path d="M845 1151.8L848 1163.5"/>
<path d="M839.2 1155.4L831.4 1168H846.8Z"/>
<path d="M891.5 1142.6L896.8 1151Q899.5 1155 901.2 1159.9Q904 1168 905.7 1177.6L909.7 1199"/>
<!-- icon 6 music clock -->
<path d="M1244.2 1330.4V1278.5Q1244.2 1274.5 1240.2 1274.5H1158.5Q1154.5 1274.5 1154.5 1278.5V1360.6Q1154.5 1364.6 1158.5 1364.6H1209.6"/>
<path d="M1184.5 1337.7V1306.2Q1184.5 1303.2 1187.7 1302.5L1212.5 1296Q1219.2 1294.6 1219.2 1301V1331.5"/>
<circle cx="1176.8" cy="1336.9" r="7.3"/>
<circle cx="1211.9" cy="1331.9" r="7.3"/>
<circle cx="1244.6" cy="1364.6" r="25"/>
<path d="M1244.6 1348.5V1364.2H1254.6"/>

</g>
</svg>
</body></html>
